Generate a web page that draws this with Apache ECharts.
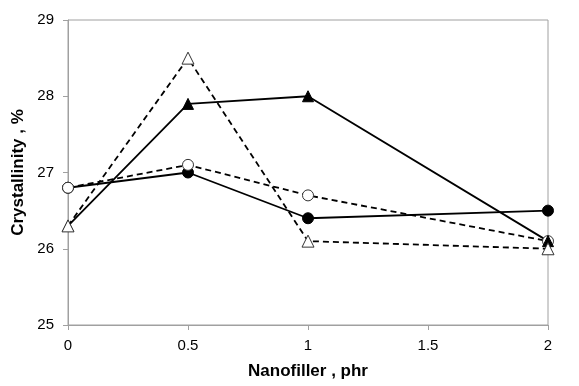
<!DOCTYPE html>
<html><head><meta charset="utf-8">
<script src="https://cdn.jsdelivr.net/npm/echarts@6/dist/echarts.min.js"></script>
<style>html,body{margin:0;padding:0;background:#fff}#c{width:579px;height:386px}</style>
</head><body><div id="c"></div>
<script>
const xValues = [0, 0.5, 1, 2];
const filledCircles = [26.8, 27.0, 26.4, 26.5];
const openCircles = [26.8, 27.1, 26.7, 26.1];
const filledTriangles = [26.3, 27.9, 28.0, 26.1];
const openTriangles = [26.3, 28.5, 26.1, 26.0];
const xTitle = 'Nanofiller , phr';
const yTitle = 'Crystallinity , %';

const pairs = arr => xValues.map((x, i) => [x, arr[i]]);
const font = 'Liberation Sans, Arial, sans-serif';
function mk(data, symbol, filled, dashed, size) {
  return {
    type: 'line', data: pairs(data), symbol: symbol, symbolSize: size,
    lineStyle: { color: '#000', width: 1.8, type: dashed ? [6, 4] : 'solid' },
    itemStyle: { color: filled ? '#000' : '#fff', borderColor: filled ? '#000' : '#333', borderWidth: 1 },
    animation: false
  };
}
const chart = echarts.init(document.getElementById('c'));
chart.setOption({
  backgroundColor: '#fff',
  grid: { left: 68, right: 31, top: 20, bottom: 61, show: true, borderColor: '#a0a0a0', borderWidth: 1 },
  xAxis: {
    type: 'value', min: 0, max: 2, interval: 0.5,
    name: xTitle, nameLocation: 'middle', nameGap: 38,
    nameTextStyle: { fontFamily: font, fontWeight: 'bold', fontSize: 17, color: '#000' },
    axisLine: { show: true, lineStyle: { color: '#a0a0a0' } },
    axisTick: { show: true, length: 5, lineStyle: { color: '#a0a0a0' } },
    axisLabel: { fontFamily: font, fontSize: 15, color: '#000', margin: 13 },
    splitLine: { show: false }
  },
  yAxis: {
    type: 'value', min: 25, max: 29, interval: 1,
    name: yTitle, nameLocation: 'middle', nameGap: 34,
    nameTextStyle: { fontFamily: font, fontWeight: 'bold', fontSize: 17, color: '#000' },
    axisLine: { show: true, lineStyle: { color: '#a0a0a0' } },
    axisTick: { show: true, length: 5, lineStyle: { color: '#a0a0a0' } },
    axisLabel: { fontFamily: font, fontSize: 15, color: '#000', margin: 14 },
    splitLine: { show: false }
  },
  series: [
    mk(filledCircles, 'circle', true, false, 11),
    mk(openCircles, 'circle', false, true, 11),
    mk(filledTriangles, 'triangle', true, false, 11),
    mk(openTriangles, 'triangle', false, true, 12)
  ]
});
</script></body></html>
